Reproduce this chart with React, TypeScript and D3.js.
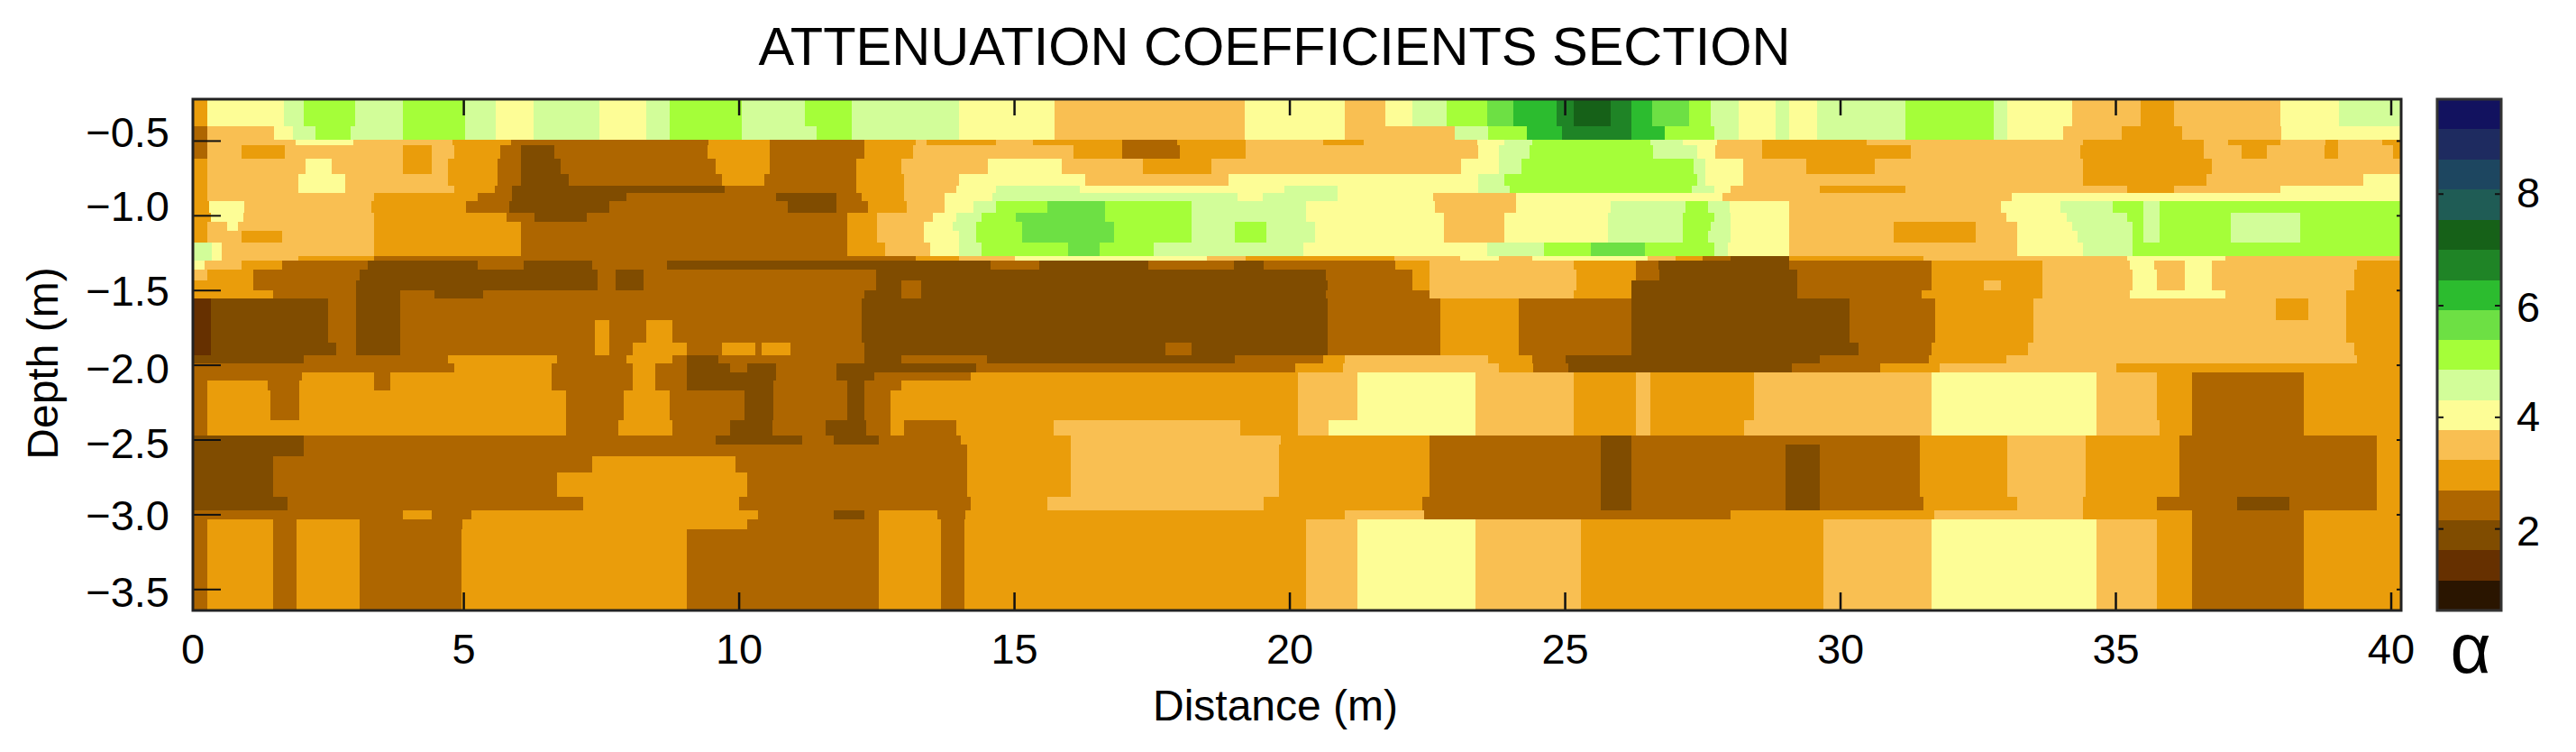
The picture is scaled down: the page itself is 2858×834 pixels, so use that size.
import React from 'react';
import * as d3 from 'd3';

const width = 2858;
const height = 834;
const margin = { top: 110, right: 194, bottom: 157, left: 214 };

// depth (m, positive down) where each section row starts, last entry closes the section
const depthEdges = [
  0.22, 0.4, 0.49, 0.53, 0.62, 0.72, 0.8, 0.85, 0.9, 0.98, 1.04, 1.1, 1.18, 1.27, 1.3, 1.36, 1.43, 1.5, 1.55, 1.7,
  1.85, 1.93, 1.99, 2.05, 2.1, 2.17, 2.37, 2.47, 2.53, 2.61, 2.72, 2.88, 2.97, 3.03, 3.1, 3.64,
];

// attenuation class, letter -> alpha at the middle of its colour band
const classAlpha: Record<string, number> = {
  R: 1.3, D: 1.9, M: 2.4, O: 3.0, L: 3.5, Y: 4.0, G: 4.6, V: 5.1, E: 5.7, B: 6.2, F: 6.7, K: 7.3,
};

// one string per row: class letter + distance (m) where that class starts
const sectionRows = [
  'O0 Y.34 G1.73 V2.1 G3.03 V3.89 G5.02 Y5.58 G6.27 Y7.46 G8.32 V8.74 G10.04 V11.19 G12.04 Y13.99 L15.72 Y19.18 L21 Y21.73 G22.23 V22.85 E23.58 B24.05 F24.85 K25.15 F25.82 B26.2 E26.58 V27.25 G27.65 Y28.15 G28.82 Y29.07 G29.57 V31.17 G32.79 Y33.03 L34.2 O35.45 L36.05 Y37.99 G39.05',
  'M0 L.34 Y1.55 G1.9 V2.3 G2.95 V3.89 G5.02 Y5.58 G6.27 Y7.46 G8.32 V8.74 G10.04 V11.4 G12.04 Y13.99 L15.72 Y19.18 L21 G23 V23.6 B24.3 F24.95 B26.2 V26.8 G27.7 Y28.15 G28.82 Y29.07 G29.57 V31.17 G32.79 Y33.03 L34.05 O35.1 L36.2 Y38',
  'M0 L.34 Y1.95 L3 O4.8 M5.85 O9.45 M10.56 O12.28 L13.2 O13.41 L14.67 O15.34 M16.96 O17.95 L19.2 O20.6 L21.34 Y23.4 G23.9 V24.4 G26.55 Y27.13 L27.75 O28.58 L30.47 O34.4 L36.6 O37.04 L37.99 O38.8 L39.03 O39.83',
  'M0 L.34 O.97 L1.75 O3.89 L4.41 O4.83 M5.66 D6.03 M6.65 O9.42 M10.56 O12.28 L13.15 O16.07 M16.96 O18 L19.2 Y23.42 G23.79 V24.36 G26.6 Y27.4 L27.73 O28.58 L31.27 O34.35 L36.6 O37.29 L37.74 O38.79 L39.03 O40.03',
  'O0 L.34 Y2.12 L2.6 O3.89 L4.41 O4.72 M5.61 D6.03 M6.76 O9.57 M10.56 O12.13 L12.95 Y14.51 L15.86 O17.33 L18.58 Y23.11 G23.79 V24.2 G27.33 Y27.54 L28.23 O29.37 L30.62 O34.4 L36.74',
  'O0 L.34 Y2 L2.85 O4.72 M5.61 D6.03 M6.91 O9.68 M10.46 O12.13 L13 Y13.99 L16.28 Y18.89 G23.42 V23.9 G27.39 Y27.54 L28.23 O34.4 L36.64 Y39.5',
  'O0 L.34 Y2 L2.85 O4.83 M5.56 D5.87 M9.73 O12.13 L13 Y13.94 G14.67 Y16.18 G19.9 Y20.87 G23.42 V24 G27.3 Y27.7 L28 O29.62 L31.17 O35.2 L36.05 Y37.99',
  'O0 L.34 O3.37 M5.25 D5.87 M7.96 D10.67 M11.76 O12.23 L13 Y13.73 G14.6 Y19.05 G19.5 Y20.87 L22.6 Y24.1 L27.86 Y33.11',
  'O0 Y.38 L1.02 O3.32 M5.04 D5.82 M7.64 D10.88 M11.76 O12.34 L13.05 Y13.73 G14.25 V14.67 E15.6 V16.65 G18.21 Y20.3 L22.64 Y24.1 G25.82 V27.18 G27.6 Y27.98 L29.07 Y32.91 G34 V34.95 G35.5 V35.8',
  'O0 Y.4 L1 O3.37 M5.77 D6.29 M7.23 O11.97 L12.5 Y13.52 G13.94 V14.4 E15.03 V16.65 G18.21 Y20.3 L22.8 Y23.9 G25.77 V27.13 G27.7 Y28 L29.07 Y33.01 G34.1 V35.2 G35.5 V35.8 G37.09 V38.34',
  'O0 L.34 Y.7 L.9 O3.37 M6.03 O11.97 L12.5 Y13.36 G13.88 V14.3 E15.14 V16.8 G18.21 V19 G19.57 Y20.45 L22.8 Y23.9 G25.77 V27.13 G27.65 Y28 L29.07 O30.97 L32.46 Y33.21 G34.2 V35.3 G35.5 V35.8 G37.09 V38.34',
  'O0 L.34 O.97 L1.7 O3.37 M6.03 O11.97 L12.5 Y13.36 G13.99 V14.3 E15.14 V16.8 G18.21 V19 G19.57 Y20.45 L22.8 Y23.9 G25.77 V27.13 G27.6 Y28 L29.07 O30.97 L32.46 Y33.21 G34.3 V35.3 G35.5 V35.8 G37.09 V38.34',
  'G0 Y.43 L.6 O3.37 M6.03 O11.97 L12.65 Y13.47 G13.99 V14.4 E15.97 V16.54 G17.53 Y20.24 G23.58 V24.62 E25.46 V26.45 G27.7 Y27.95 L29.07 Y33.21 G34.4 V35.3',
  'G0 Y.43 L.6 O2 M3.37 O13.2 L13.99 Y15 L18.5 O19.2 L21.9 Y23.1 L23.8 Y24.4 L26.5 O27 M27.5 D28 O29.07 L31.5 Y35.2 L36.99',
  'Y0 L.3 O.97 M1.7 D3.26 M5.25 D6.08 M7.33 D8.69 M14.56 D15.45 M17.43 D18.99 M19.52 O21.91 L22.54 O25.15 M26.29 D26.7 M29.07 O31.66 L33.66 Y35.25 L35.7 Y36.25 L36.74 O39.38',
  'L0 O.35 M1.18 D3.11 M7.43 D7.75 M8.27 D12.49 M20.66 O22.23 L22.54 O25.2 M26.29 D26.71 M29.22 O31.66 L33.66 Y35.3 L35.75 Y36.25 L36.74 O39.33',
  'O0 M1.18 D3.05 M7.43 D7.75 M8.27 D12.49 M12.95 D13.31 M20.68 O22.23 L22.54 O25.2 D26.21 M29.22 O31.66 L32.61 O32.91 L33.66 Y35.3 L35.75 Y36.25 L36.74 O39.33',
  'O0 M1.54 D3.05 M3.84 D4.46 M5.35 D12.28 M12.95 D13.31 M20.66 L22.54 O25.15 D26.21 M29.22 O31.47 L33.66 Y35.25 L36.99 O39.18',
  'R0 D.4 M2.53 D3.05 M3.84 D12.23 M20.68 O22.73 M24.15 D26.21 M30.17 O31.71 L33.51 O37.9 L38.5 O39.18',
  'R0 D.4 M2.53 D3.05 M3.84 O7.38 M7.64 O8.32 M8.79 D12.23 M20.68 O22.73 M24.15 D26.21 M30.17 O31.71 L33.51 O39.18',
  'R0 D.4 M2.69 D3.05 M3.84 O7.38 M7.64 O8.06 M9.05 O9.68 M10.3 O10.41 M10.93 D12.28 M17.74 D18.21 M20.68 O22.73 M24.15 D26.21 M30.32 O31.66 L33.41 O39.33',
  'D0 M2.1 O4.72 M6.7 O7.96 M8.79 D9.05 M9.63 D12.28 M12.95 D14.5 M19 O20.6 L21 O23.6 M24.4 D25 M29.62 O31.61 L33.01 O39.38',
  'M0 O4.83 M6.6 O8.06 M8.48 D9.05 M9.83 D10.15 M10.67 D11.76 M14.3 O20.1 L20.97 O23.79 M24.42 D25.05 M29.12 O30.72 L31.8 O35',
  'M0 O2.06 M3.37 O3.66 M6.6 O8.06 M8.48 D9.05 M10.67 D11.76 M12.45 O14.2 L20.14 Y21.23 L23.37 O25.15 L26.29 O26.55 L28.43 Y31.66 L34.65 O35.75 M36.38 O38.41',
  'M0 O.34 M1.44 O2.01 M3.37 O3.66 M6.6 O8.06 M8.48 D9.05 M10.62 D11.97 M12.28 O12.95 L20.14 Y21.23 L23.37 O25.15 L26.29 O26.55 L28.43 Y31.66 L34.65 O35.75 M36.38 O38.41',
  'M0 O.34 M1.49 O2.01 M6.86 O7.9 M8.74 D10.09 M10.62 D11.97 M12.28 O12.75 L20.14 Y21.23 L23.37 O25.15 L26.29 O26.55 L28.43 Y31.66 L34.65 O35.75 M36.38 O38.41',
  'M0 O.34 M6.86 O7.8 M8.79 D9.83 M10.6 D11.57 M12.3 O12.75 M13 O13.94 L15.71 O19.1 L20.14 Y20.7 L23.37 O25.15 L26.29 O26.55 L28.25 Y31.66 L34.65 O35.8 M36.38 O38.41',
  'D0 M2.1 D9.57 M11.14 D11.71 M12.54 O14.02 L16.02 O19.83 M22.54 D25.65 M26.21 O31.44 L33.03 O34.45 M36.15 O39.73',
  'D0 M2.1 O14.14 L16.02 O19.81 M22.54 D25.65 M26.21 D29 M29.62 O31.44 L33.03 O34.45 M36.15 O39.73',
  'D0 M1.54 O7.33 M9.94 O14.14 L16.02 O19.81 M22.54 D25.65 M26.21 D29 M29.62 O31.44 L33.03 O34.45 M36.15 O39.73',
  'D0 M1.54 O6.7 M10.15 O14.14 L16.02 O19.81 M22.54 D25.65 M26.21 D29 M29.62 O31.44 L33.03 O34.45 M36.15 O39.73',
  'D0 M1.8 O7.17 M10 O14.2 L15.6 O19.52 M22.4 D25.65 M26.21 D29 M29.62 O31.5 L33.2 O34.4 M35.75 D37.2 M38.15 O39.73',
  'M0 O3.89 M4.41 O5.14 M10.35 D11.71 M12.28 O12.54 M13.6 O14.1 L21 M22.43 O28 L31.7 O34.4 M36.38 O38.41',
  'M0 O.34 M1.54 O1.96 M3.11 O4.98 M10.15 O12.54 M13.67 O14.09 L20.3 Y21.23 L23.37 O25.28 L29.69 Y31.66 L34.65 O35.75 M36.38 O38.41',
  'M0 O.34 M1.54 O1.96 M3.11 O4.95 M9.05 O12.54 M13.67 O14.09 L20.3 Y21.23 L23.37 O25.28 L29.69 Y31.66 L34.65 O35.75 M36.38 O38.41',
];

// colour key: 17 bands, bottom to top
const bandColors = [
  '#2a1500', '#663000', '#804c00', '#ae6600', '#ea9d0b', '#f9bf52', '#fdfd96', '#d2fd99', '#a5fe39',
  '#6de044', '#2cbc2f', '#1f8426', '#166118', '#1f5c55', '#1d4660', '#1e2b60', '#12125f',
];
const alphaBreaks = [
  1.08, 1.62, 2.15, 2.69, 3.23, 3.77, 4.31, 4.85, 5.38, 5.92, 6.46, 7.0, 7.54, 8.08, 8.62, 9.16,
];
const alphaRange = [0.54, 9.7];

const distanceTicks = [0, 5, 10, 15, 20, 25, 30, 35, 40];
const depthTicks = [0.5, 1, 1.5, 2, 2.5, 3, 3.5];
const alphaTicks = [2, 4, 6, 8];
// the labels do not sit centred on their ticks in the original
const depthLabelShift = [7, 6, 17, 20, 20, 17, 19];
const alphaLabelShift = { 2: 18, 4: 15, 6: 18, 8: 15 };

const parseRow = (row: string) =>
  row.split(' ').map(t => ({ code: t[0], start: +t.slice(1) }));

export default function App() {
  const plotRight = width - margin.right;
  const plotBottom = height - margin.bottom;
  const x = d3.scaleLinear().domain([0.08, 40.18]).range([margin.left, plotRight]);
  const y = d3.scaleLinear().domain([0.22, 3.64]).range([margin.top, plotBottom]);
  const barY = d3.scaleLinear().domain(alphaRange).range([plotBottom, margin.top]);
  const color = d3.scaleThreshold<number, string>().domain(alphaBreaks).range(bandColors);
  const barLeft = 2704;
  const barRight = 2775;
  const font = '"Liberation Sans", Arial, sans-serif';
  const bandEdges = [alphaRange[0], ...alphaBreaks, alphaRange[1]];

  const clampX = (d: number) => Math.max(x(d), margin.left);

  return (
    <svg
      width={width}
      height={height}
      style={{ position: 'absolute', left: 0, top: 0, background: '#fff' }}
      fontFamily={font}
    >
      <g shapeRendering='crispEdges'>
        {sectionRows.map((row, i) => {
          const runs = parseRow(row);
          return runs.map((run, j) => {
            const end = j < runs.length - 1 ? runs[j + 1].start : x.domain()[1];
            return (
              <rect
                key={i + '-' + j}
                x={clampX(run.start)}
                y={y(depthEdges[i])}
                width={Math.max(0, x(end) - clampX(run.start))}
                height={y(depthEdges[i + 1]) - y(depthEdges[i])}
                fill={color(classAlpha[run.code])}
              />
            );
          });
        })}
      </g>

      {/* ticks */}
      {distanceTicks.slice(1).map(d => (
        <g key={d} stroke='#111' strokeWidth={2.5}>
          <line x1={x(d)} x2={x(d)} y1={margin.top} y2={margin.top + 18} />
          <line x1={x(d)} x2={x(d)} y1={plotBottom} y2={plotBottom - 20} />
        </g>
      ))}
      {depthTicks.map(d => (
        <g key={d} stroke='#111' strokeWidth={2}>
          <line x1={margin.left} x2={margin.left + 31} y1={y(d)} y2={y(d)} />
          <line x1={plotRight} x2={plotRight - 5} y1={y(d)} y2={y(d)} />
        </g>
      ))}
      <rect
        x={margin.left}
        y={margin.top}
        width={plotRight - margin.left}
        height={plotBottom - margin.top}
        fill='none'
        stroke='#222'
        strokeWidth={3}
      />

      {/* colour key */}
      <g shapeRendering='crispEdges'>
        {bandColors.map((c, i) => (
          <rect
            key={c}
            x={barLeft}
            y={barY(bandEdges[i + 1])}
            width={barRight - barLeft}
            height={barY(bandEdges[i]) - barY(bandEdges[i + 1])}
            fill={c}
          />
        ))}
      </g>
      {alphaTicks.map(t => (
        <g key={t} stroke='#111' strokeWidth={2}>
          <line x1={barLeft} x2={barLeft + 7} y1={barY(t)} y2={barY(t)} />
          <line x1={barRight} x2={barRight - 7} y1={barY(t)} y2={barY(t)} />
        </g>
      ))}
      <rect
        x={barLeft}
        y={margin.top}
        width={barRight - barLeft}
        height={plotBottom - margin.top}
        fill='none'
        stroke='#333'
        strokeWidth={3}
      />

      {/* text */}
      <text x={1414} y={72} fontSize={59.5} textAnchor='middle' fill='#000'>
        ATTENUATION COEFFICIENTS SECTION
      </text>
      {distanceTicks.map(d => (
        <text key={d} x={clampX(d)} y={736} fontSize={47} textAnchor='middle' fill='#000'>
          {d}
        </text>
      ))}
      {depthTicks.map((d, i) => (
        <text key={d} x={188} y={y(d) + depthLabelShift[i]} fontSize={47} textAnchor='end' fill='#000'>
          {'\u2212' + d.toFixed(1)}
        </text>
      ))}
      {alphaTicks.map(t => (
        <text key={t} x={2792} y={barY(t) + alphaLabelShift[t]} fontSize={47} fill='#000'>
          {t}
        </text>
      ))}
      <text x={1415} y={799} fontSize={48} textAnchor='middle' fill='#000'>
        Distance (m)
      </text>
      <text transform='translate(64,403) rotate(-90)' fontSize={48} textAnchor='middle' fill='#000'>
        Depth (m)
      </text>
      <text x={2741} y={746} fontSize={78} textAnchor='middle' fill='#000'>
        {'\u03b1'}
      </text>
    </svg>
  );
}
